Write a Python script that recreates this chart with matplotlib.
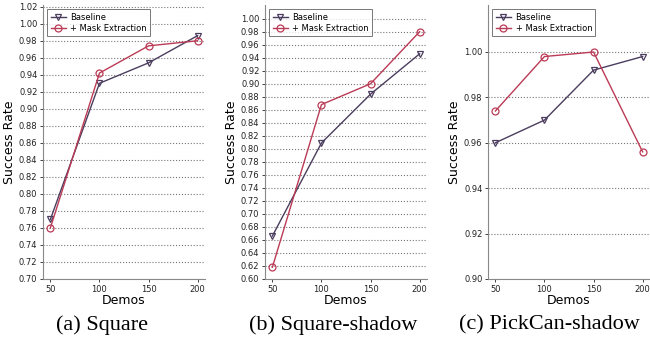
import matplotlib
matplotlib.use('Agg')
import matplotlib.pyplot as plt

demos = [50, 100, 150, 200]

square_base = [0.770, 0.930, 0.954, 0.986]
square_mask = [0.760, 0.942, 0.974, 0.980]
shadow_base = [0.666, 0.809, 0.884, 0.946]
shadow_mask = [0.618, 0.868, 0.900, 0.980]
pickcan_base = [0.960, 0.970, 0.992, 0.998]
pickcan_mask = [0.974, 0.998, 1.000, 0.956]

captions = ['(a) Square', '(b) Square-shadow', '(c) PickCan-shadow']
ylims = [(0.70, 1.022), (0.60, 1.021), (0.90, 1.0207)]
ytick_sets = [
    [round(0.70 + 0.02 * i, 2) for i in range(17)],
    [round(0.60 + 0.02 * i, 2) for i in range(21)],
    [0.90, 0.92, 0.94, 0.96, 0.98, 1.00],
]
base_color = '#4b3d5e'
mask_color = '#bb3a55'

fig = plt.figure(figsize=(6.5, 3.47), dpi=100)
lefts = [43 / 650, 265 / 650, 488 / 650]
caption_x = [102 / 650, 333 / 650, 549 / 650]
w = 162 / 650
bottom = 1 - 279 / 347
h = (279 - 5) / 347

series = [(square_base, square_mask), (shadow_base, shadow_mask), (pickcan_base, pickcan_mask)]
for i, (base, mask) in enumerate(series):
    ax = fig.add_axes([lefts[i], bottom, w, h])
    ax.plot(demos, base, color=base_color, marker='v', mfc='none', ms=5, lw=1, mew=0.9, label='Baseline')
    ax.plot(demos, mask, color=mask_color, marker='o', mfc='none', ms=5, lw=1, mew=0.9, label='+ Mask Extraction')
    ax.set_ylim(*ylims[i])
    ax.set_yticks(ytick_sets[i])
    ax.set_yticklabels(['%.2f' % t for t in ytick_sets[i]])
    ax.set_xticks(demos)
    ax.tick_params(labelsize=6, length=2, width=0.6, colors='#222222', pad=2)
    ax.yaxis.grid(True, linestyle=':', color='#777777', lw=0.8)
    ax.set_axisbelow(True)
    for s in ['top', 'right']:
        ax.spines[s].set_visible(False)
    for s in ['left', 'bottom']:
        ax.spines[s].set_color('#888888')
        ax.spines[s].set_linewidth(0.8)
    ax.set_xlabel('Demos', fontsize=9, labelpad=0)
    ax.set_ylabel('Success Rate', fontsize=9, labelpad=2)
    leg = ax.legend(loc='upper left', fontsize=6, fancybox=False, edgecolor='#555555',
                    handlelength=1.8, borderpad=0.4, labelspacing=0.3, handletextpad=0.6)
    leg.get_frame().set_linewidth(0.7)
    fig.text(caption_x[i], 1 - 325 / 347, captions[i], ha='center', va='center',
             fontsize=16, family='Liberation Serif')

fig.savefig('out.png', dpi=100)
